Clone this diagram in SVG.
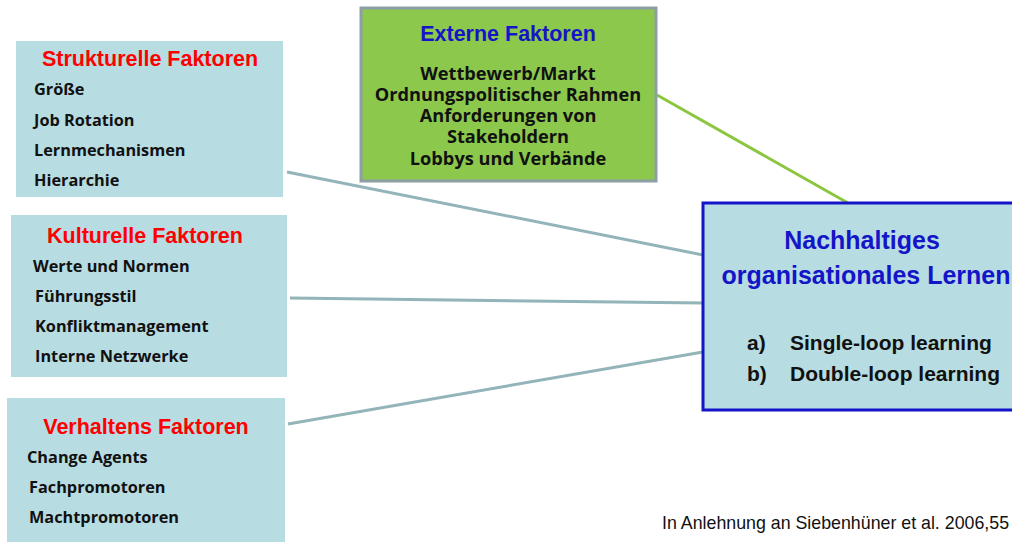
<svg xmlns="http://www.w3.org/2000/svg" width="1012" height="542" viewBox="0 0 1012 542">
<style>
.box{fill:#b7dce2;}
.hdr{font-family:"Liberation Sans",Arial,sans-serif;font-weight:700;font-size:21.5px;fill:#ff0000;text-anchor:middle;}
.item{font-family:"Open Sans","Liberation Sans",sans-serif;font-weight:700;font-size:16.3px;fill:#111;}
.ext{font-family:"Open Sans","Liberation Sans",sans-serif;font-weight:700;font-size:18.2px;fill:#111;text-anchor:middle;}
.blue{font-family:"Liberation Sans",Arial,sans-serif;font-weight:700;fill:#1414c8;text-anchor:middle;}
.lst{font-family:"Liberation Sans",Arial,sans-serif;font-weight:700;font-size:21px;fill:#111;}
.conn{stroke:#93b4b9;stroke-width:3;fill:none;}
</style>
<rect width="1012" height="542" fill="#fff"/>
<g id="connectors">
<line class="conn" x1="287" y1="172" x2="703" y2="255"/>
<line class="conn" x1="290" y1="298" x2="703" y2="303"/>
<line class="conn" x1="288" y1="424" x2="703" y2="352"/>
<line x1="657" y1="95" x2="848" y2="203" stroke="#8cc63f" stroke-width="3"/>
</g>
<g id="strukturelle">
<rect class="box" x="16" y="41" width="267" height="156"/>
<text class="hdr" x="150" y="66">Strukturelle Faktoren</text>
<text class="item" x="34" y="95">Größe</text>
<text class="item" x="34" y="126">Job Rotation</text>
<text class="item" x="34" y="156">Lernmechanismen</text>
<text class="item" x="34" y="186">Hierarchie</text>
</g>
<g id="kulturelle">
<rect class="box" x="11" y="215" width="276" height="162"/>
<text class="hdr" x="145" y="243">Kulturelle Faktoren</text>
<text class="item" x="33" y="272">Werte und Normen</text>
<text class="item" x="35" y="302">Führungsstil</text>
<text class="item" x="35" y="332">Konfliktmanagement</text>
<text class="item" x="35" y="362">Interne Netzwerke</text>
</g>
<g id="verhaltens">
<rect class="box" x="7" y="398" width="278" height="144"/>
<text class="hdr" x="146" y="434">Verhaltens Faktoren</text>
<text class="item" x="27" y="463">Change Agents</text>
<text class="item" x="29" y="493">Fachpromotoren</text>
<text class="item" x="29" y="523">Machtpromotoren</text>
</g>
<g id="externe">
<rect x="361" y="8" width="295" height="173" fill="#8cc84b" stroke="#8d9ea6" stroke-width="3"/>
<text class="blue" x="508" y="41" font-size="21.5">Externe Faktoren</text>
<text class="ext" x="508" y="80">Wettbewerb/Markt</text>
<text class="ext" x="508" y="101">Ordnungspolitischer Rahmen</text>
<text class="ext" x="508" y="122">Anforderungen von</text>
<text class="ext" x="508" y="143">Stakeholdern</text>
<text class="ext" x="508" y="165">Lobbys und Verbände</text>
</g>
<g id="nachhaltiges">
<rect x="703" y="203" width="312" height="207" fill="#b7dce2" stroke="#1414c8" stroke-width="3"/>
<text class="blue" x="862" y="249" font-size="25">Nachhaltiges</text>
<text class="blue" x="866" y="284" font-size="25">organisationales Lernen</text>
<text class="lst" x="747" y="350">a)</text>
<text class="lst" x="790" y="350">Single-loop learning</text>
<text class="lst" x="747" y="381">b)</text>
<text class="lst" x="790" y="381">Double-loop learning</text>
</g>
<text x="662" y="529" font-family="Liberation Sans,Arial,sans-serif" font-size="17.8" fill="#111">In Anlehnung an Siebenhüner et al. 2006,55</text>
</svg>
